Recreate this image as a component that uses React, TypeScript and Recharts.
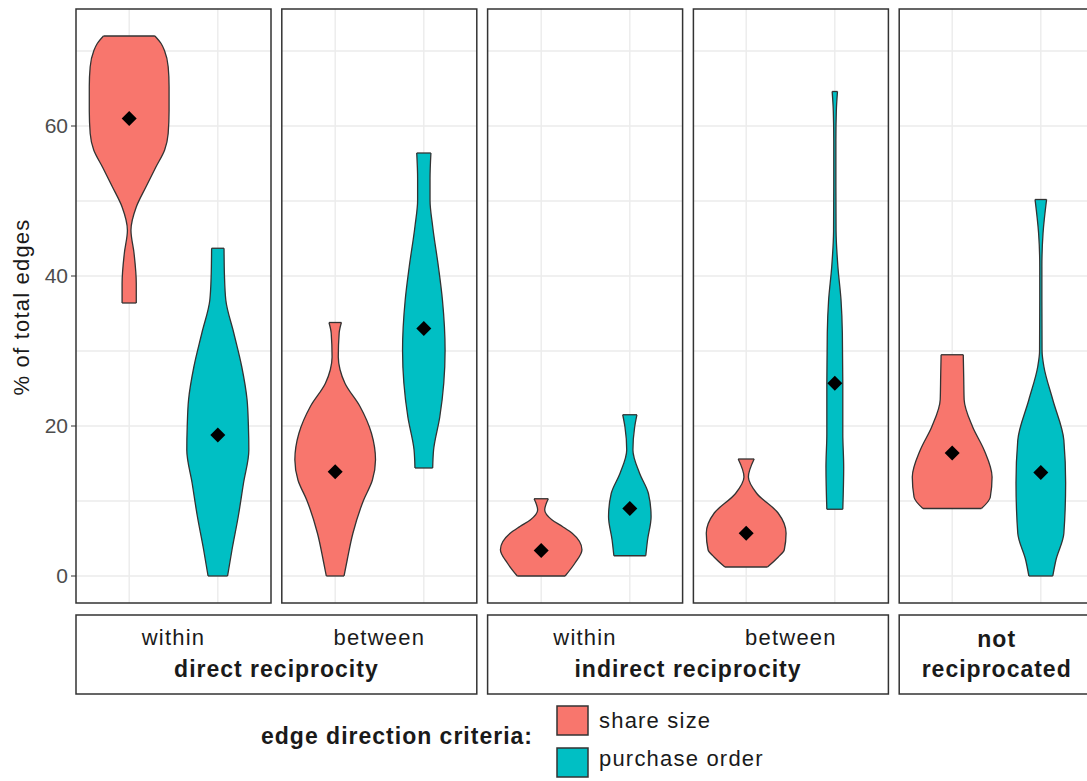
import {
  ComposedChart,
  Area,
  Scatter,
  XAxis,
  YAxis,
  CartesianGrid,
  ReferenceLine,
} from 'recharts';

const SHARE_COLOR = '#F8766D';
const ORDER_COLOR = '#00BFC4';
const OUTLINE = '#333333';
const FONT = '"Liberation Sans", Arial, sans-serif';

const panelLabels = ['within', 'between', 'within', 'between', ''];
const groupLabels = ['direct reciprocity', 'indirect reciprocity', 'not reciprocated'];
const criteria = ['share size', 'purchase order'];
const yTicks = [0, 20, 40, 60];
const gridValues = [0, 10, 20, 30, 40, 50, 60, 70];

// violin outlines per panel: value levels (% of total edges) and density half-width (category units)
const shareLevels = [
  [36.4, 39, 43, 46.1, 49.2, 51.9, 54.5, 56.8, 59, 62, 65.3, 67.9, 70, 71, 72],
  [0, 2.1, 5.7, 10.1, 12.8, 15.5, 19, 22.6, 25.7, 27.5, 29.2, 32.4, 33.8],
  [0, 1.7, 3.5, 5.7, 6.6, 7.5, 8.8, 10.3],
  [1.2, 2.5, 3.5, 5.7, 8.4, 11, 13.2, 15.6],
  [9, 10.5, 13.2, 16.8, 19.9, 23.5, 26.5, 29.5],
];
const shareWidths = [
  [0.08, 0.08, 0.055, 0.02, 0.08, 0.19, 0.3, 0.4, 0.44, 0.45, 0.45, 0.44, 0.4, 0.36, 0.29],
  [0.1, 0.135, 0.2, 0.32, 0.42, 0.455, 0.41, 0.28, 0.11, 0.055, 0.035, 0.045, 0.07],
  [0.27, 0.38, 0.46, 0.35, 0.24, 0.12, 0.04, 0.08],
  [0.24, 0.36, 0.43, 0.45, 0.36, 0.12, 0.025, 0.09],
  [0.33, 0.43, 0.45, 0.36, 0.23, 0.135, 0.13, 0.125],
];
const orderLevels = [
  [0, 3.5, 7.9, 12.4, 16.8, 20, 23.5, 27.9, 32.4, 36.8, 40, 43.7],
  [14.4, 16.8, 21.2, 25.7, 30.1, 36.8, 41.2, 46.6, 50.1, 53, 56.4],
  [2.7, 4.8, 7.9, 11, 13.7, 16.8, 19.9, 21.5],
  [8.9, 14.5, 19, 25.7, 32.4, 36.8, 41.2, 46, 52, 58, 62, 64.6],
  [0, 2.1, 5.7, 12.4, 18.1, 23.5, 27.9, 30, 36.8, 41.2, 45.7, 50.2],
];
const orderWidths = [
  [0.11, 0.16, 0.23, 0.29, 0.35, 0.345, 0.33, 0.27, 0.18, 0.09, 0.075, 0.07],
  [0.1, 0.11, 0.18, 0.225, 0.24, 0.21, 0.165, 0.1, 0.07, 0.07, 0.08],
  [0.18, 0.2, 0.24, 0.21, 0.11, 0.035, 0.055, 0.08],
  [0.09, 0.1, 0.09, 0.09, 0.085, 0.07, 0.035, 0.014, 0.012, 0.012, 0.017, 0.03],
  [0.135, 0.17, 0.26, 0.28, 0.26, 0.135, 0.035, 0.014, 0.012, 0.012, 0.025, 0.065],
];
const shareMeans = [61, 13.9, 3.4, 5.7, 16.4];
const orderMeans = [18.8, 33, 9, 25.7, 13.8];

const PANEL_TOP = 9;
const PANEL_H = 594;
const PANEL_W = 195;
const AXIS_W = 76;
const PANEL_STEP = 205.8;
const panelLeft = (i: number) => AXIS_W + i * PANEL_STEP;

const violinRows = (levels: number[], widths: number[], center: number) =>
  levels.map((v, i) => ({ v, range: [center - widths[i], center + widths[i]] }));

const Diamond = (props: any) => {
  const { cx, cy } = props;
  const r = 7.5;
  return <path d={`M${cx},${cy - r}L${cx + r},${cy}L${cx},${cy + r}L${cx - r},${cy}Z`} fill="#000" />;
};

function Panel({ index }: { index: number }) {
  const first = index === 0;
  const series = [
    { levels: shareLevels[index], widths: shareWidths[index], mean: shareMeans[index], center: 1, color: SHARE_COLOR },
    { levels: orderLevels[index], widths: orderWidths[index], mean: orderMeans[index], center: 2, color: ORDER_COLOR },
  ];
  return (
    <div style={{ position: 'absolute', left: first ? 0 : panelLeft(index), top: PANEL_TOP }}>
      <ComposedChart
        layout="vertical"
        width={first ? AXIS_W + PANEL_W : PANEL_W}
        height={PANEL_H}
        margin={{ top: 0, right: 0, bottom: 0, left: 0 }}
      >
        <CartesianGrid stroke="#EBEBEB" strokeWidth={1.4} horizontalValues={gridValues} verticalValues={[1, 2]} />
        <XAxis type="number" dataKey="x" domain={[0.4, 2.6]} allowDataOverflow hide />
        <YAxis
          type="number"
          dataKey="v"
          domain={[-3.6, 75.6]}
          allowDataOverflow
          reversed
          ticks={yTicks}
          hide={!first}
          width={AXIS_W}
          axisLine={false}
          tickSize={5}
          tickMargin={3}
          tickLine={{ stroke: OUTLINE }}
          tick={{ fill: '#4D4D4D', fontSize: 21, fontFamily: FONT }}
        />
        {series.map((s, i) => (
          <Area
            key={`v${i}`}
            data={violinRows(s.levels, s.widths, s.center)}
            dataKey="range"
            type="monotone"
            fill={s.color}
            fillOpacity={1}
            stroke={OUTLINE}
            strokeWidth={1.3}
            dot={false}
            activeDot={false}
            isAnimationActive={false}
          />
        ))}
        {series.map((s, i) => {
          const last = s.levels.length - 1;
          return [0, last].map((k) => (
            <ReferenceLine
              key={`cap${i}-${k}`}
              segment={[
                { x: s.center - s.widths[k], y: s.levels[k] },
                { x: s.center + s.widths[k], y: s.levels[k] },
              ]}
              stroke={OUTLINE}
              strokeWidth={1.3}
              ifOverflow="visible"
            />
          ));
        })}
        <Scatter
          data={series.map((s) => ({ x: s.center, v: s.mean }))}
          shape={<Diamond />}
          isAnimationActive={false}
        />
      </ComposedChart>
    </div>
  );
}

export default function App() {
  const textStyle = { fontFamily: FONT, letterSpacing: '1.2px' };
  const boldStyle = { fontFamily: FONT, fontWeight: 700, letterSpacing: '1px' };
  const stripTop = 615;
  const stripH = 79;
  const groups = [
    { from: 0, to: 1 },
    { from: 2, to: 3 },
    { from: 4, to: 4 },
  ];
  return (
    <div style={{ position: 'absolute', left: 0, top: 0, width: 1087, height: 781, overflow: 'hidden', background: '#fff' }}>
      {[0, 1, 2, 3, 4].map((i) => (
        <Panel key={i} index={i} />
      ))}
      <svg width={1087} height={781} style={{ position: 'absolute', left: 0, top: 0, pointerEvents: 'none' }}>
        <text transform="translate(28.5,307) rotate(-90)" textAnchor="middle" fontSize={22} fill="#1A1A1A" style={textStyle}>
          % of total edges
        </text>
        {[0, 1, 2, 3, 4].map((i) => (
          <rect key={`b${i}`} x={panelLeft(i)} y={PANEL_TOP} width={PANEL_W} height={PANEL_H} fill="none" stroke={OUTLINE} strokeWidth={1.5} />
        ))}
        {groups.map((g, gi) => {
          const x0 = panelLeft(g.from);
          const x1 = panelLeft(g.to) + PANEL_W;
          const cx = (x0 + x1) / 2;
          return (
            <g key={`g${gi}`}>
              <rect x={x0} y={stripTop} width={x1 - x0} height={stripH} fill="#fff" stroke={OUTLINE} strokeWidth={1.5} />
              {gi < 2 ? (
                <text x={cx} y={677} textAnchor="middle" fontSize={23} fill="#1A1A1A" style={boldStyle}>
                  {groupLabels[gi]}
                </text>
              ) : (
                <>
                  <text x={cx} y={647} textAnchor="middle" fontSize={23} fill="#1A1A1A" style={boldStyle}>
                    not
                  </text>
                  <text x={cx} y={677} textAnchor="middle" fontSize={23} fill="#1A1A1A" style={boldStyle}>
                    reciprocated
                  </text>
                </>
              )}
            </g>
          );
        })}
        {panelLabels.map((lab, i) =>
          lab ? (
            <text key={`l${i}`} x={panelLeft(i) + PANEL_W / 2} y={645} textAnchor="middle" fontSize={22} fill="#1A1A1A" style={textStyle}>
              {lab}
            </text>
          ) : null,
        )}
        <text x={533} y={744} textAnchor="end" fontSize={23} fill="#1A1A1A" style={boldStyle}>
          edge direction criteria:
        </text>
        {criteria.map((c, i) => (
          <g key={c}>
            <rect x={557} y={706 + i * 42} width={31} height={29} fill={i === 0 ? SHARE_COLOR : ORDER_COLOR} stroke={OUTLINE} strokeWidth={1.5} />
            <text x={599} y={728 + i * 38} fontSize={22} fill="#1A1A1A" style={textStyle}>
              {c}
            </text>
          </g>
        ))}
      </svg>
    </div>
  );
}
